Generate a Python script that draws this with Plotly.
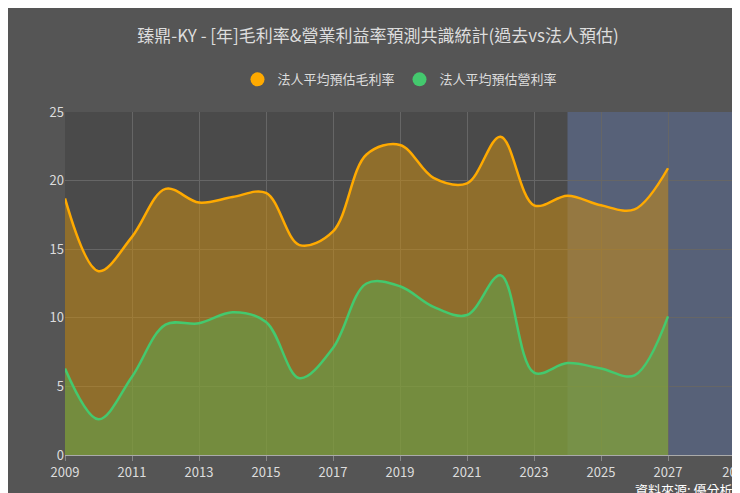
import plotly.graph_objects as go

years = list(range(2009, 2028))
gross = [18.7, 13.4, 15.9, 19.4, 18.4, 18.8, 19.1, 15.3, 16.3, 21.9, 22.6, 20.2, 19.8, 23.2, 18.2, 18.9, 18.2, 17.9, 20.9]
oper = [6.3, 2.6, 5.7, 9.5, 9.6, 10.4, 9.7, 5.6, 7.8, 12.5, 12.3, 10.8, 10.2, 13.1, 6.0, 6.7, 6.3, 5.8, 10.1]
tickvals = [2009, 2011, 2013, 2015, 2017, 2019, 2021, 2023, 2025, 2027, 2029]
ticktext = ["2009", "2011", "2013", "2015", "2017", "2019", "2021", "2023", "2025", "2027", "20..."]

fig = go.Figure()
fig.add_trace(go.Scatter(x=years, y=gross, name="法人平均預估毛利率", mode="lines", showlegend=False,
                         line=dict(color="#FFAA00", width=2.5, shape="spline", smoothing=1),
                         fill="tozeroy", fillcolor="rgba(200,140,20,0.55)"))
fig.add_trace(go.Scatter(x=years, y=oper, name="法人平均預估營利率", mode="lines", showlegend=False,
                         line=dict(color="#44C96E", width=2.5, shape="spline", smoothing=1),
                         fill="tozeroy", fillcolor="rgba(90,170,80,0.5)"))
fig.add_trace(go.Scatter(x=[None], y=[None], mode="markers", name="法人平均預估毛利率",
                         marker=dict(color="#FFAA00", size=14)))
fig.add_trace(go.Scatter(x=[None], y=[None], mode="markers", name="法人平均預估營利率",
                         marker=dict(color="#44C96E", size=14)))
fig.add_vrect(x0=2024, x1=2029, fillcolor="#5C6A88", opacity=0.75, line_width=0, layer="below")

font = "Noto Sans CJK TC"
fig.update_layout(
    width=740, height=493,
    paper_bgcolor="#555555", plot_bgcolor="#4a4a4a",
    font=dict(family=font, color="#dddddd", size=13),
    title=dict(text="臻鼎-KY - [年]毛利率&營業利益率預測共識統計(過去vs法人預估)", x=0.5, y=0.955,
               font=dict(size=17, color="#dddddd")),
    legend=dict(orientation="h", x=0.5, xanchor="center", y=1.095, yanchor="middle",
                font=dict(size=13, color="#dddddd"), itemwidth=30),
    margin=dict(l=57, r=13, t=104, b=46),
    xaxis=dict(range=[2009, 2029], tickvals=tickvals, ticktext=ticktext, showgrid=True,
               gridcolor="#666666", zeroline=False, ticks="outside", tickcolor="#888",
               linecolor="#aaaaaa", showline=True, automargin=False,
               tickfont=dict(color="#dddddd", size=13)),
    yaxis=dict(range=[0, 25], dtick=5, showgrid=True, gridcolor="#666666", zeroline=False,
               automargin=False, tickfont=dict(color="#dddddd", size=13)),
    annotations=[dict(text="資料來源: 優分析", xref="paper", yref="paper", x=1.0, y=-0.1,
                      xanchor="right", yanchor="middle", showarrow=False,
                      font=dict(size=13, color="#ffffff"))],
)
fig.write_html("out.html")
